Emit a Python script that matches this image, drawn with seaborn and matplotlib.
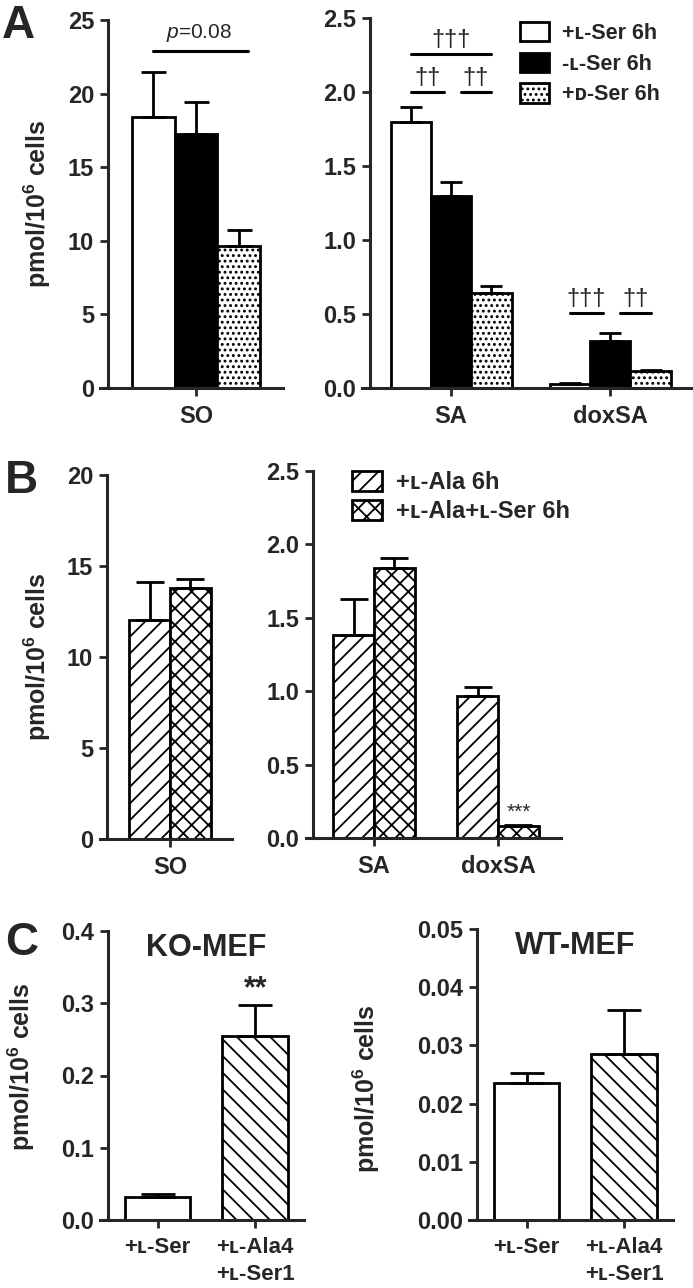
import numpy as np
import pandas as pd
import matplotlib
matplotlib.use("Agg")
import matplotlib.pyplot as plt
from matplotlib.patches import Patch
from matplotlib.ticker import FormatStrFormatter
import seaborn as sns

# A: 6h serine conditions
a_treat = ["+ʟ-Ser 6h", "-ʟ-Ser 6h", "+ᴅ-Ser 6h"]
a_so = [18.4, 17.25, 9.65]
a_so_err = [3.1, 2.15, 1.05]
a_cats = ["SA", "doxSA"]
a_sa = [1.80, 1.30, 0.64]
a_sa_err = [0.10, 0.09, 0.05]
a_dox = [0.027, 0.32, 0.115]
a_dox_err = [0.006, 0.05, 0.006]

# B: alanine with / without serine
b_treat = ["+ʟ-Ala 6h", "+ʟ-Ala+ʟ-Ser 6h"]
b_so = [12.05, 13.8]
b_so_err = [2.05, 0.5]
b_sa = [1.38, 1.84]
b_sa_err = [0.25, 0.07]
b_dox = [0.97, 0.085]
b_dox_err = [0.06, 0.006]

# C: MEF cells
c_cond = ["+ʟ-Ser", "+ʟ-Ala4\n+ʟ-Ser1"]
c_ko = [0.032, 0.254]
c_ko_err = [0.004, 0.043]
c_wt = [0.0235, 0.0285]
c_wt_err = [0.0017, 0.0076]

a_face = ["white", "black", "white"]
a_hatch = ["", "", "..."]
b_face = ["white", "white"]
b_hatch = ["//", "xx"]
c_hatch = ["", "\\\\"]

sns.set_style("ticks")
plt.rcParams["font.family"] = ["Liberation Sans", "DejaVu Sans"]
plt.rcParams["font.weight"] = "bold"
plt.rcParams["axes.labelweight"] = "bold"
plt.rcParams["mathtext.fontset"] = "custom"
plt.rcParams["mathtext.rm"] = "Liberation Sans:bold"
plt.rcParams["mathtext.it"] = "Liberation Sans:italic:regular"
plt.rcParams["mathtext.bf"] = "Liberation Sans:bold"
plt.rcParams["hatch.linewidth"] = 1.3
plt.rcParams["hatch.color"] = "black"

W, H = 693, 1288
fig = plt.figure(figsize=(W / 100, H / 100), dpi=100)
ylab = "pmol/10$^{6}$ cells"


def add_ax(l, t, r, b, yspine):
    ax = fig.add_axes([l / W, 1 - b / H, (r - l) / W, (b - t) / H])
    sns.despine(ax=ax)
    for s in ["left", "bottom"]:
        ax.spines[s].set_linewidth(2.2)
    ax.spines["left"].set_position(("axes", (yspine - l) / (r - l)))
    ax.tick_params(axis="y", length=6, width=2, labelsize=17, pad=4)
    ax.tick_params(axis="x", length=6, width=2, labelsize=17, pad=6)
    return ax


def grouped(ax, cats, hues, vals, errs, faces, hatches, width, cap):
    df = pd.DataFrame({"cat": np.repeat(cats, len(hues)),
                       "grp": list(hues) * len(cats),
                       "val": np.concatenate(vals)})
    sns.barplot(data=df, x="cat", y="val", hue="grp", hue_order=hues,
                palette=faces, saturation=1, width=width, errorbar=None,
                edgecolor="k", linewidth=2, legend=False, ax=ax)
    centers = np.zeros((len(cats), len(hues)))
    for k, cont in enumerate(ax.containers):
        for j, bar in enumerate(cont):
            bar.set_hatch(hatches[k])
            centers[j, k] = bar.get_x() + bar.get_width() / 2
    xs = centers.ravel()
    ys = np.concatenate(vals)
    es = np.concatenate(errs)
    ax.errorbar(xs, ys, yerr=[np.zeros(len(es)), es], fmt="none", ecolor="k",
                elinewidth=2, capsize=cap, capthick=2)
    ax.set_xlabel("")
    ax.set_ylabel("")
    return centers


def bracket(ax, x0, x1, y, txt, size=17):
    ax.plot([x0, x1], [y, y], color="k", lw=2.2, clip_on=False)
    ax.annotate(txt, ((x0 + x1) / 2, y), xytext=(0, 2), textcoords="offset points",
                ha="center", va="bottom", fontsize=size, fontweight="normal")


# ---------- A ----------
ax = add_ax(100, 20, 283, 388, 108)
c = grouped(ax, ["SO"], a_treat, [a_so], [a_so_err], a_face, a_hatch, 0.81, 9)
ax.set_xlim(-0.604, 0.547)
ax.set_ylim(0, 25)
ax.set_yticks([0, 5, 10, 15, 20, 25])
ax.set_ylabel(ylab, fontsize=18)
ax.yaxis.set_label_coords(-0.257, 0.5)
ax.plot([c[0, 0], c[0, 2] + 0.06], [22.9, 22.9], color="k", lw=2.2)
ax.text(0.02, 23.4, "$p$=0.08", ha="center", va="bottom", fontsize=15,
        fontweight="normal")

ax = add_ax(362, 18, 693, 388, 370)
c = grouped(ax, a_cats, a_treat, [a_sa, a_dox], [a_sa_err, a_dox_err],
            a_face, a_hatch, 0.76, 8)
ax.set_xlim(-0.56, 1.52)
ax.set_ylim(0, 2.5)
ax.set_yticks(np.arange(0, 2.51, 0.5))
ax.yaxis.set_major_formatter(FormatStrFormatter("%.1f"))
bracket(ax, c[0, 0], c[0, 2], 2.26, "†††")
bracket(ax, c[0, 0], c[0, 1] - 0.045, 2.0, "††")
bracket(ax, c[0, 1] + 0.06, c[0, 2], 2.0, "††")
bracket(ax, c[1, 0], c[1, 1] - 0.045, 0.51, "†††")
bracket(ax, c[1, 1] + 0.06, c[1, 2], 0.51, "††")
hs = [Patch(facecolor=f, edgecolor="k", hatch=h, linewidth=2)
      for f, h in zip(a_face, a_hatch)]
ax.legend(hs, a_treat, loc="upper left", bbox_to_anchor=(520 / W, 1 - 22 / H),
          bbox_transform=fig.transFigure, frameon=False,
          prop={"size": 15.5, "weight": "bold"}, handlelength=1.35,
          handleheight=1.0, handletextpad=0.6, labelspacing=0.4,
          borderpad=0, borderaxespad=0)

# ---------- B ----------
ax = add_ax(100, 475, 232, 839, 107)
c = grouped(ax, ["SO"], b_treat, [b_so], [b_so_err], b_face, b_hatch, 0.66, 10)
ax.set_xlim(-0.565, 0.5)
ax.set_ylim(0, 20)
ax.set_yticks([0, 5, 10, 15, 20])
ax.set_ylabel(ylab, fontsize=18)
ax.yaxis.set_label_coords(-0.356, 0.5)

ax = add_ax(306, 471, 561, 838, 313)
c = grouped(ax, a_cats, b_treat, [b_sa, b_dox], [b_sa_err, b_dox_err],
            b_face, b_hatch, 0.66, 10)
ax.set_xlim(-0.548, 1.508)
ax.set_ylim(0, 2.5)
ax.set_yticks(np.arange(0, 2.51, 0.5))
ax.yaxis.set_major_formatter(FormatStrFormatter("%.1f"))
ax.annotate("***", (c[1, 1], b_dox[1] + b_dox_err[1]), xytext=(0, 2),
            textcoords="offset points", ha="center", va="bottom",
            fontsize=15, fontweight="normal")
hs = [Patch(facecolor=f, edgecolor="k", hatch=h, linewidth=2)
      for f, h in zip(b_face, b_hatch)]
ax.legend(hs, b_treat, loc="upper left", bbox_to_anchor=(352 / W, 1 - 471 / H),
          bbox_transform=fig.transFigure, frameon=False,
          prop={"size": 17, "weight": "bold"}, handlelength=1.25,
          handleheight=0.9, handletextpad=0.6, labelspacing=0.25,
          borderpad=0, borderaxespad=0)

# ---------- C ----------
for (l, t, r, b, sp), vals, errs, ymax, step, fmt, title, lx, ly in [
        ((100, 931, 304, 1220, 108), c_ko, c_ko_err, 0.4, 0.1, "%.1f", "KO-MEF", -0.309, 0.53),
        ((469, 929, 673, 1220, 477), c_wt, c_wt_err, 0.05, 0.01, "%.2f", "WT-MEF", -0.426, 0.45)]:
    ax = add_ax(l, t, r, b, sp)
    sns.barplot(x=c_cond, y=vals, color="white", saturation=1, width=0.67,
                errorbar=None, edgecolor="k", linewidth=2, ax=ax)
    xs = []
    for bar, h in zip(ax.patches, c_hatch):
        bar.set_hatch(h)
        xs.append(bar.get_x() + bar.get_width() / 2)
    ax.errorbar(xs, vals, yerr=[[0, 0], errs], fmt="none", ecolor="k",
                elinewidth=2, capsize=12, capthick=2)
    ax.set_xlim(-0.59, 1.5)
    ax.set_ylim(0, ymax)
    ax.set_yticks(np.arange(0, ymax + step / 2, step))
    ax.yaxis.set_major_formatter(FormatStrFormatter(fmt))
    ax.tick_params(axis="x", labelsize=16, pad=6)
    for t_ in ax.get_xticklabels():
        t_.set_linespacing(1.4)
    ax.set_ylabel(ylab, fontsize=18)
    ax.yaxis.set_label_coords(lx, ly)
    ax.text(0.52, 0.915, title, transform=ax.transAxes, ha="center",
            va="baseline", fontsize=22)
    if title == "KO-MEF":
        ax.annotate("**", (xs[1], vals[1] + errs[1]), xytext=(0, 1),
                    textcoords="offset points", ha="center", va="bottom",
                    fontsize=22)

fig.text(2 / W, 1 - 38 / H, "A", fontsize=33, fontweight="bold", va="baseline")
fig.text(5 / W, 1 - 493 / H, "B", fontsize=33, fontweight="bold", va="baseline")
fig.text(5 / W, 1 - 955 / H, "C", fontsize=33, fontweight="bold", va="baseline")

fig.savefig("out.png", dpi=100)
